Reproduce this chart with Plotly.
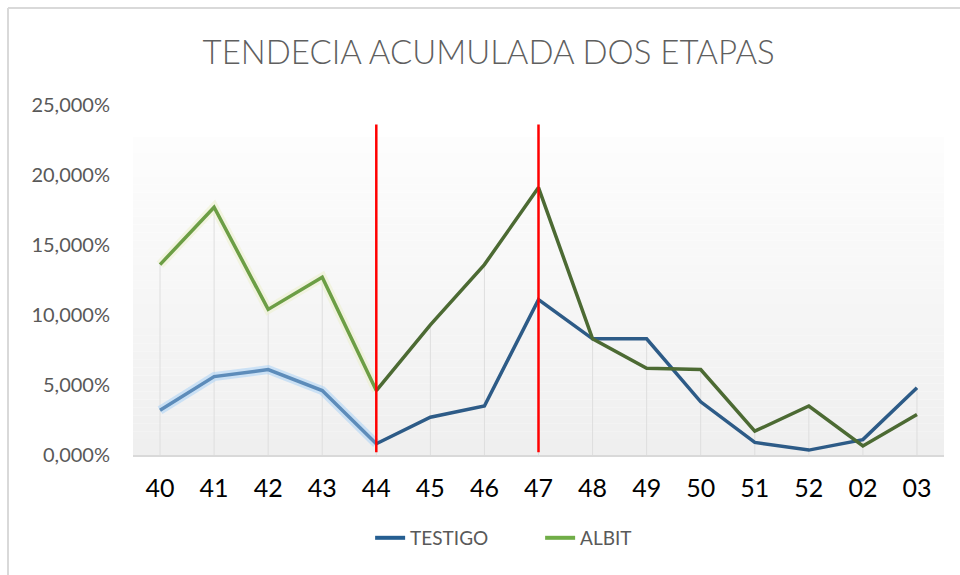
import plotly.graph_objects as go

# ---- data ----
semanas = ["40", "41", "42", "43", "44", "45", "46", "47", "48", "49", "50", "51", "52", "02", "03"]
testigo = [3.2, 5.6, 6.1, 4.6, 0.8, 2.7, 3.5, 11.1, 8.3, 8.3, 3.8, 0.9, 0.35, 1.1, 4.8]
albit = [13.6, 17.7, 10.4, 12.7, 4.6, 9.3, 13.6, 19.1, 8.3, 6.2, 6.1, 1.7, 3.5, 0.65, 2.9]
etapa_marcas = ["44", "47"]
marca_rango = [0.2, 23.6]
y_ticks = [0, 5, 10, 15, 20, 25]
y_ticktext = [f"{v:.3f}".replace(".", ",") + "%" for v in y_ticks]

split = semanas.index("44")

fig = go.Figure()

# background gradient bands (plot area fill)
n_bands = 40
top_fill = 22.7
for i in range(n_bands):
    y0 = top_fill * i / n_bands
    y1 = top_fill * (i + 1) / n_bands
    t = i / (n_bands - 1)
    c = int(round(239 + (253 - 239) * t))
    fig.add_shape(type="rect", xref="paper", yref="y", x0=0, x1=1, y0=y0, y1=y1,
                  fillcolor=f"rgb({c},{c},{c})", line_width=0, layer="below")

# drop lines
dx, dy = [], []
for s, a, b in zip(semanas, testigo, albit):
    dx += [s, s, None]
    dy += [max(a, b), 0, None]
fig.add_trace(go.Scatter(x=dx, y=dy, mode="lines", line=dict(color="#dedede", width=1),
                         showlegend=False, hoverinfo="skip"))

# glow for first stage
fig.add_trace(go.Scatter(x=semanas[:split + 1], y=testigo[:split + 1], mode="lines",
                         line=dict(color="rgba(170,210,245,0.55)", width=9), showlegend=False, hoverinfo="skip"))
fig.add_trace(go.Scatter(x=semanas[:split + 1], y=albit[:split + 1], mode="lines",
                         line=dict(color="rgba(235,240,200,0.5)", width=9), showlegend=False, hoverinfo="skip"))

# TESTIGO
fig.add_trace(go.Scatter(x=semanas[:split + 1], y=testigo[:split + 1], mode="lines",
                         line=dict(color="#5d8cba", width=3.5), showlegend=False))
fig.add_trace(go.Scatter(x=semanas[split:], y=testigo[split:], mode="lines",
                         line=dict(color="#2d5b87", width=3.5), showlegend=False))
# ALBIT
fig.add_trace(go.Scatter(x=semanas[:split + 1], y=albit[:split + 1], mode="lines",
                         line=dict(color="#6c9e45", width=3.5), showlegend=False))
fig.add_trace(go.Scatter(x=semanas[split:], y=albit[split:], mode="lines",
                         line=dict(color="#4c6a33", width=3.5), showlegend=False))

# legend entries
fig.add_trace(go.Scatter(x=[None], y=[None], mode="lines", name="TESTIGO",
                         line=dict(color="#255e91", width=4)))
fig.add_trace(go.Scatter(x=[None], y=[None], mode="lines", name="ALBIT",
                         line=dict(color="#70ad47", width=4)))

# red stage markers
mx, my = [], []
for m in etapa_marcas:
    mx += [m, m, None]
    my += [marca_rango[0], marca_rango[1], None]
fig.add_trace(go.Scatter(x=mx, y=my, mode="lines", line=dict(color="#ff0000", width=2.5),
                         showlegend=False, hoverinfo="skip"))

fig.update_layout(
    width=960, height=575,
    margin=dict(l=133, r=16, t=105, b=120),
    paper_bgcolor="white", plot_bgcolor="white",
    title=dict(text="TENDECIA ACUMULADA DOS ETAPAS", x=0.509, xanchor="center",
               y=1 - 52 / 575, yanchor="middle", yref="container",
               font=dict(family="Lato", size=33, color="#5f5f5f", weight=300)),
    xaxis=dict(type="category", categoryorder="array", categoryarray=semanas,
               range=[-0.5, len(semanas) - 0.5], showgrid=False, zeroline=False,
               showline=True, linecolor="#d9d9d9", linewidth=1.5,
               ticks="", ticklabelstandoff=10,
               tickfont=dict(family="Lato", size=25, color="#000000")),
    yaxis=dict(range=[0, 25], tickvals=y_ticks, ticktext=y_ticktext,
               showgrid=False, zeroline=False, showline=False, ticks="",
               ticklabelstandoff=22,
               tickfont=dict(family="Lato", size=20, color="#595959")),
    legend=dict(orientation="h", x=0.502, xanchor="center", y=-0.237, yanchor="middle",
                font=dict(family="Lato", size=19, color="#595959"),
                entrywidth=125, entrywidthmode="pixels", traceorder="normal"),
)

# chart border (top and left)
fig.add_shape(type="line", xref="paper", yref="paper",
              x0=-125 / 811, x1=1 + 16 / 811, y0=1 + 97 / 350, y1=1 + 97 / 350,
              line=dict(color="#d9d9d9", width=2))
fig.add_shape(type="line", xref="paper", yref="paper",
              x0=-125 / 811, x1=-125 / 811, y0=1 + 97 / 350, y1=-120 / 350,
              line=dict(color="#d9d9d9", width=2))

fig.write_html("out.html", config={"displayModeBar": False},
               post_script="document.body.style.margin='0';")
